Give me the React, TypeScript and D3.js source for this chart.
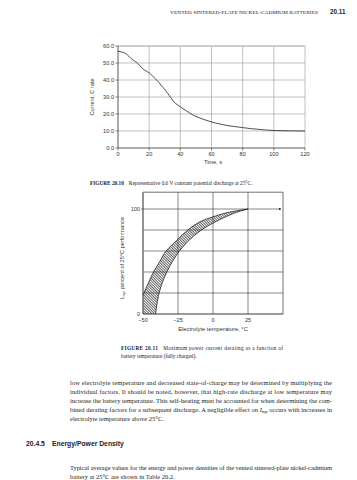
import React from "react";
import * as d3 from "d3";

// ---------- Figure 20.10 data ----------
const timeS = [0, 2, 4, 6, 8, 10, 12, 14, 16, 18, 20, 22, 24, 26, 28, 30, 32, 34, 36, 38, 40, 44, 48, 52, 56, 60, 65, 70, 75, 80, 85, 90, 95, 100, 110, 120];
const currentC = [57, 56.5, 56, 54.8, 53, 51.5, 50.3, 48.5, 46.5, 45.3, 44.2, 42.5, 40.7, 38.8, 36.5, 34.5, 32, 29.5, 27, 25.5, 24.2, 21.8, 19.5, 17.8, 16.5, 15.3, 14.2, 13.2, 12.6, 12.0, 11.4, 11.0, 10.6, 10.3, 10.1, 10.0];
const xTicks1 = [0, 20, 40, 60, 80, 100, 120];
const yTicks1 = [0, 10, 20, 30, 40, 50, 60];

// ---------- Figure 20.11 data ----------
const tempUpper = [-50, -46, -42.5, -38, -33.5, -26, -18, -9, 0, 10, 25];
const impUpper = [18, 30, 40, 50, 60, 70, 80, 88, 92.5, 96.5, 100];
const tempLower = [-41, -38.5, -33, -24, -14, -6, 5, 15, 25];
const impLower = [0, 20, 40, 60, 74, 82, 90, 96, 100];
const xTickLabels2 = ["\u221250", "\u221225", "0", "25"];
const xTicks2 = [-50, -25, 0, 25];
const yGrid2 = [20, 40, 60, 80];

const bodyLines = [
  "low electrolyte temperature and decreased state-of-charge may be determined by multiplying the",
  "individual factors. It should be noted, however, that high-rate discharge at low temperature may",
  "increase the battery temperature. This self-heating must be accounted for when determining the com-",
  "bined derating factors for a subsequent discharge. A negligible effect on ",
];

const SANS = "'Liberation Sans', Arial, sans-serif";
const SERIF = "'Liberation Serif', 'Times New Roman', serif";

export default function App() {
  // chart 1
  const x1 = d3.scaleLinear().domain([0, 120]).range([118, 305]);
  const y1 = d3.scaleLinear().domain([0, 60]).range([148, 46]);
  const line1 = d3
    .line<number>()
    .x((_, i) => x1(timeS[i]))
    .y((d) => y1(d))
    .curve(d3.curveMonotoneX);

  // chart 2
  const x2 = d3.scaleLinear().domain([-50, 50]).range([143, 283]);
  const y2 = d3.scaleLinear().domain([0, 100]).range([314, 209]);
  const upperPts: [number, number][] = tempUpper.map((t, i) => [x2(t), y2(impUpper[i])]);
  const lowerPts: [number, number][] = tempLower.map((t, i) => [x2(t), y2(impLower[i])]);
  const cr = d3.line().curve(d3.curveCatmullRom.alpha(0.5));
  const upperPath = cr(upperPts) || "";
  const lowerPath = cr(lowerPts) || "";
  const lowerRev = (cr([...lowerPts].reverse()) || "").replace(/^M/, "L");
  const bandPath = upperPath + lowerRev + `L${x2(-50)},${y2(0)}Z`;
  const top2 = y2(116);

  const fs1 = 5.6;

  return (
    <svg width={357} height={480} style={{ position: "absolute", left: 0, top: 0, background: "#fff" }}>
      <defs>
        <pattern id="hatch" patternUnits="userSpaceOnUse" width={1.9} height={1.9} patternTransform="rotate(45)">
          <line x1={0} y1={0.5} x2={1.9} y2={0.5} stroke="#222" strokeWidth={0.7} />
        </pattern>
        <marker id="arr" viewBox="0 0 6 6" refX={5} refY={3} markerWidth={4} markerHeight={4} orient="auto">
          <path d="M0,0L6,3L0,6Z" fill="#222" />
        </marker>
      </defs>

      {/* Header */}
      <text x={170} y={14} fontFamily={SERIF} fontSize={5} textLength={148} lengthAdjust="spacingAndGlyphs" fill="#222">
        VENTED SINTERED-PLATE NICKEL-CADMIUM BATTERIES
      </text>
      <text x={330} y={14} fontFamily={SANS} fontSize={6.3} fontWeight="bold" fill="#222">
        20.11
      </text>

      {/* ===== Chart 1 ===== */}
      <g>
        {yTicks1.slice(1, -1).map((v) => (
          <line key={"h" + v} x1={x1(0)} x2={x1(120)} y1={y1(v)} y2={y1(v)} stroke="#999" strokeWidth={0.6} />
        ))}
        {xTicks1.slice(1).map((v) => (
          <line key={"v" + v} x1={x1(v)} x2={x1(v)} y1={y1(0)} y2={y1(60)} stroke="#999" strokeWidth={0.6} />
        ))}
        <line x1={x1(0)} x2={x1(120)} y1={y1(60)} y2={y1(60)} stroke="#bbb" strokeWidth={1.6} />
        <line x1={x1(0)} x2={x1(0)} y1={y1(0)} y2={y1(60)} stroke="#333" strokeWidth={0.8} />
        <line x1={x1(0)} x2={x1(120)} y1={y1(0)} y2={y1(0)} stroke="#333" strokeWidth={0.8} />
        {yTicks1.map((v) => (
          <g key={"yt" + v}>
            <line x1={x1(0) - 2.5} x2={x1(0)} y1={y1(v)} y2={y1(v)} stroke="#333" strokeWidth={0.6} />
            <text x={x1(0) - 4} y={y1(v) + 2} textAnchor="end" fontFamily={SANS} fontSize={fs1} fill="#333">
              {v.toFixed(1)}
            </text>
          </g>
        ))}
        {xTicks1.map((v) => (
          <g key={"xt" + v}>
            <line x1={x1(v)} x2={x1(v)} y1={y1(0)} y2={y1(0) + 2.5} stroke="#333" strokeWidth={0.6} />
            <text x={x1(v)} y={y1(0) + 8} textAnchor="middle" fontFamily={SANS} fontSize={fs1} fill="#333">
              {v}
            </text>
          </g>
        ))}
        <path d={line1(currentC) || ""} fill="none" stroke="#222" strokeWidth={0.8} />
        <text x={213} y={164} textAnchor="middle" fontFamily={SANS} fontSize={fs1} fill="#333">
          Time, s
        </text>
        <text transform={`translate(94,97) rotate(-90)`} textAnchor="middle" fontFamily={SANS} fontSize={fs1} fill="#333">
          Current, C rate
        </text>
      </g>

      {/* Caption 1 */}
      <text x={90} y={185} fontFamily={SERIF} fontSize={5.3} fill="#222">
        <tspan fontWeight="bold">FIGURE 20.10</tspan>
        <tspan dx={5}>Representative 0.6 V constant potential discharge at 25°C.</tspan>
      </text>

      {/* ===== Chart 2 ===== */}
      <g>
        <path d={bandPath} fill="url(#hatch)" stroke="none" />
        {yGrid2.map((v) => (
          <line key={"g" + v} x1={x2(-50)} x2={x2(50)} y1={y2(v)} y2={y2(v)} stroke="#333" strokeWidth={0.6} />
        ))}
        <line x1={x2(-50)} x2={x2(50) - 2} y1={y2(100)} y2={y2(100)} stroke="#333" strokeWidth={0.6} markerEnd="url(#arr)" />
        {[-25, 0, 25].map((v) => (
          <line key={"vg" + v} x1={x2(v)} x2={x2(v)} y1={y2(0)} y2={top2} stroke="#333" strokeWidth={0.6} />
        ))}
        <line x1={x2(50)} x2={x2(50)} y1={y2(0)} y2={top2} stroke="#333" strokeWidth={0.7} />
        <line x1={x2(-50)} x2={x2(50)} y1={top2} y2={top2} stroke="#333" strokeWidth={0.7} />
        <line x1={x2(-50)} x2={x2(-50)} y1={y2(0)} y2={top2} stroke="#666" strokeWidth={1.4} />
        <line x1={x2(-50)} x2={x2(50)} y1={y2(0)} y2={y2(0)} stroke="#222" strokeWidth={0.9} />
        <path d={upperPath} fill="none" stroke="#222" strokeWidth={0.8} />
        <path d={lowerPath} fill="none" stroke="#222" strokeWidth={0.8} />
        <line x1={x2(-50) - 2} x2={x2(-50)} y1={y2(100)} y2={y2(100)} stroke="#333" strokeWidth={0.6} />
        <text x={x2(-50) - 3} y={y2(100) + 2} textAnchor="end" fontFamily={SANS} fontSize={5.4} fill="#333">
          100
        </text>
        <text x={x2(-50) - 3} y={y2(0) + 2} textAnchor="end" fontFamily={SANS} fontSize={5.4} fill="#333">
          0
        </text>
        {xTicks2.map((v, i) => (
          <text key={"x2" + v} x={x2(v)} y={y2(0) + 7.5} textAnchor="middle" fontFamily={SANS} fontSize={5.6} fill="#333">
            {xTickLabels2[i]}
          </text>
        ))}
        <text x={213} y={331} textAnchor="middle" fontFamily={SANS} fontSize={5.8} fill="#333">
          Electrolyte temperature, °C
        </text>
        <text transform={`translate(124,258) rotate(-90)`} textAnchor="middle" fontFamily={SANS} fontSize={5.6} fill="#333">
          I<tspan fontSize={4} dy={1.2}>mp</tspan>
          <tspan dy={-1.2}>, percent of 25°C performance</tspan>
        </text>
      </g>

      {/* Caption 2 */}
      <text x={121} y={350} fontFamily={SERIF} fontSize={5.3} fill="#222" textLength={162} lengthAdjust="spacing">
        <tspan fontWeight="bold">FIGURE 20.11</tspan>
        <tspan dx={5}>Maximum power current derating as a function of</tspan>
      </text>
      <text x={121} y={357.5} fontFamily={SERIF} fontSize={5.3} fill="#222">
        battery temperature (fully charged).
      </text>

      {/* Body text */}
      {bodyLines.slice(0, 3).map((l, i) => (
        <text key={"b" + i} x={70} y={385 + i * 9} fontFamily={SERIF} fontSize={6.5} fill="#222" textLength={262} lengthAdjust="spacing">
          {l}
        </text>
      ))}
      <text x={70} y={385 + 27} fontFamily={SERIF} fontSize={6.5} fill="#222" textLength={262} lengthAdjust="spacing">
        {bodyLines[3]}
        <tspan fontStyle="italic">I</tspan>
        <tspan fontSize={4.5} dy={1.2}>mp</tspan>
        <tspan dy={-1.2}> occurs with increases in</tspan>
      </text>
      <text x={70} y={385 + 36} fontFamily={SERIF} fontSize={6.5} fill="#222">
        electrolyte temperature above 25°C.
      </text>

      {/* Heading */}
      <text x={26} y={446} fontFamily={SANS} fontSize={6.8} fontWeight="bold" fill="#222">
        20.4.5
        <tspan x={52}>Energy/Power Density</tspan>
      </text>

      {/* Last paragraph */}
      <text x={70} y={470} fontFamily={SERIF} fontSize={6.5} fill="#222" textLength={262} lengthAdjust="spacing">
        Typical average values for the energy and power densities of the vented sintered-plate nickel-cadmium
      </text>
      <text x={70} y={479} fontFamily={SERIF} fontSize={6.5} fill="#222">
        battery at 25°C are shown in Table 20.2.
      </text>
    </svg>
  );
}
